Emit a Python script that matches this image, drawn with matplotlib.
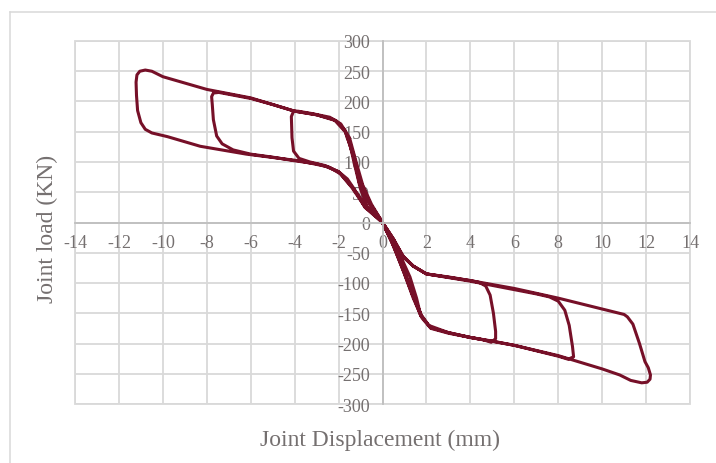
import matplotlib
matplotlib.use("Agg")
import matplotlib.pyplot as plt
from matplotlib.lines import Line2D
from matplotlib.patches import Rectangle
import numpy as np

# small initial cycle near the origin
disp_c0 = [0, 0.5, 1.0, 1.4, 1.75, 1.55, 1.25, 0.9, 0.5, 0,
           -0.55, -1.05, -1.35, -1.55, -1.3, -1.0, -0.7, 0]
load_c0 = [0, -35, -82, -122, -155, -125, -90, -62, -35, 0,
           30, 65, 115, 140, 100, 55, 27, 0]

# cycle 1 (about +5 / -4 mm)
disp_c1 = [0, 0.4, 0.9, 1.3, 1.75, 2.1, 3.0, 4.0, 4.6, 4.95, 5.15, 5.15, 5.05, 4.9, 4.7, 4.4, 4.0,
           3.0, 2.0, 1.4, 0.95, 0.5, 0,
           -0.5, -0.9, -1.2, -1.5, -1.9, -2.4, -3.2, -3.85, -4.05, -4.15, -4.12, -4.05, -3.8, -3.3,
           -2.6, -2.0, -1.4, -0.8, 0]
load_c1 = [0, -30, -72, -110, -152, -170, -182, -190, -194, -198, -192, -180, -150, -120, -105, -99, -96,
           -90, -85, -72, -56, -28, 0,
           30, 62, 100, 140, 163, 174, 180, 184, 184, 175, 140, 118, 106, 100,
           94, 84, 58, 26, 0]

# cycle 2 (about +8.7 / -7.7 mm)
disp_c2 = [0, 0.45, 0.95, 1.35, 1.8, 2.2, 3, 4, 5, 6, 7, 8, 8.45, 8.7, 8.65, 8.5, 8.3, 8.0, 7.6,
           7, 6, 5, 4, 3, 2, 1.4, 0.95, 0.5, 0,
           -0.6, -1.0, -1.3, -1.7, -2.2, -3, -4, -5, -6, -7, -7.45, -7.7, -7.78, -7.75, -7.7, -7.55,
           -7.3, -6.8, -6, -5, -4, -3, -2.4, -1.9, -1.3, -0.7, 0]
load_c2 = [0, -35, -80, -118, -156, -174, -182, -190, -196, -203, -212, -221, -226, -222, -205, -170,
           -145, -130, -123, -118, -111, -104, -97, -91, -85, -72, -57, -28, 0,
           32, 65, 110, 150, 170, 178, 184, 195, 205, 212, 215, 214, 208, 195, 170, 143,
           130, 120, 113, 108, 102, 97, 91, 80, 55, 25, 0]

# cycle 3 (about +12.2 / -11.2 mm)
disp_c3 = [0, 0.5, 1.0, 1.4, 1.8, 2.2, 3, 4, 6, 8, 10, 10.8, 11.3, 11.8, 12.05, 12.18, 12.2, 12.1,
           11.95, 11.7, 11.4, 11.15, 11.0, 10, 8, 6, 4, 2, 1.4, 0.9, 0.5, 0,
           -0.55, -1.0, -1.35, -1.7, -2.1, -3, -4, -6, -8, -10, -10.5, -10.8, -11.05, -11.18,
           -11.22, -11.2, -11.15, -11.0, -10.8, -10.5, -9.8, -8.3, -6.2, -3.8, -2.6, -2.0,
           -1.6, -1.3, -0.8, 0]
load_c3 = [0, -38, -85, -125, -158, -175, -183, -190, -203, -220, -242, -252, -261, -265, -264,
           -259, -252, -240, -230, -200, -168, -156, -152, -143, -125, -109, -96, -85, -72, -55,
           -27, 0,
           30, 68, 112, 152, 168, 178, 184, 206, 220, 241, 250, 252, 250, 244,
           232, 210, 185, 165, 154, 148, 142, 126, 113, 102, 93, 84,
           72, 56, 25, 0]

x_ticks = list(range(-14, 15, 2))
y_ticks = list(range(-300, 301, 50))

disp = np.concatenate([disp_c0, disp_c1, disp_c2, disp_c3])
load = np.concatenate([load_c0, load_c1, load_c2, load_c3])

plt.rcParams['font.family'] = 'Liberation Serif'
plt.rcParams['axes.unicode_minus'] = False
text_col = '#757070'
grid_col = '#d9d9d9'

fig = plt.figure(figsize=(7.16, 4.64), dpi=100)
ax = fig.add_axes([75/716, 1 - 405/464, 615/716, 363/464])

ax.plot(disp, load, color='#761028', linewidth=2.2, solid_joinstyle='round',
        solid_capstyle='round')

ax.set_xlim(-14, 14)
ax.set_ylim(-300, 300)
ax.set_xticks(x_ticks)
ax.set_yticks(y_ticks)
ax.grid(True, color=grid_col, linewidth=1.3)
ax.set_axisbelow(True)

for s in ['top', 'right']:
    ax.spines[s].set_visible(False)
ax.spines['left'].set_position(('data', 0))
ax.spines['bottom'].set_position(('data', 0))
ax.spines['left'].set_color('#bfbfbf')
ax.spines['bottom'].set_color('#bfbfbf')
ax.spines['left'].set_linewidth(1.3)
ax.spines['bottom'].set_linewidth(1.3)
ax.add_patch(Rectangle((0, 0), 1, 1, transform=ax.transAxes, fill=False,
                       edgecolor=grid_col, linewidth=1.3, clip_on=False, zorder=0))

ax.tick_params(length=0, labelsize=13, labelcolor=text_col)
ax.tick_params(axis='x', pad=8)
ax.tick_params(axis='y', pad=9)

fig.text(380/716, 1 - 440/464, 'Joint Displacement (mm)', ha='center', va='center',
         fontsize=17, color=text_col)
fig.text(47/716, 1 - 229/464, 'Joint load (KN)', ha='center', va='center',
         rotation=90, fontsize=17, color=text_col)

# chart area border (partly cut off in the original)
fig.add_artist(Line2D([10/716, 1], [1 - 13/464, 1 - 13/464], transform=fig.transFigure,
                      color=grid_col, linewidth=1.1))
fig.add_artist(Line2D([10/716, 10/716], [0, 1 - 13/464], transform=fig.transFigure,
                      color=grid_col, linewidth=1.1))

fig.savefig('out.png', dpi=100)
